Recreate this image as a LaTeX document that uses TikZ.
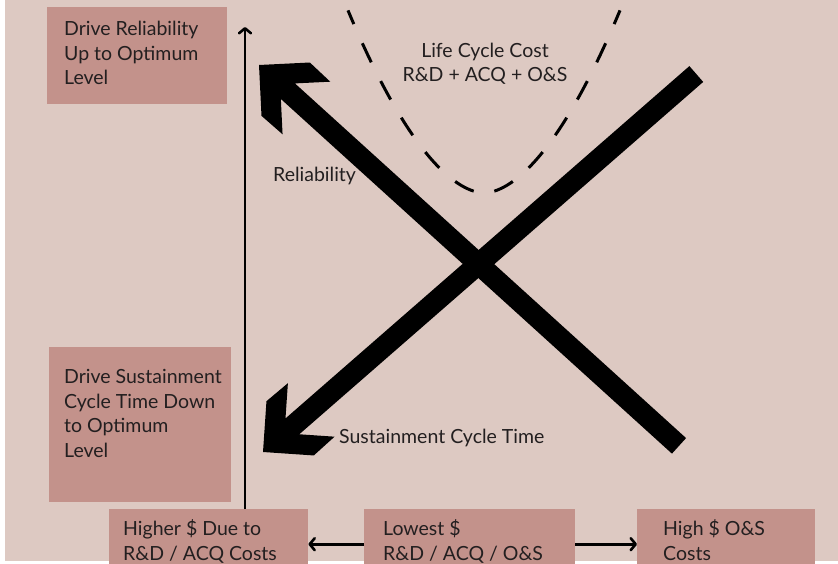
\documentclass[tikz,border=0pt]{standalone}
\usepackage{fontspec}
\setmainfont{Lato}
\usetikzlibrary{arrows.meta}

\definecolor{bgpink}{RGB}{221,201,194}
\definecolor{boxrose}{RGB}{195,146,139}
\definecolor{ink}{RGB}{35,31,32}

\tikzset{
  panel/.style={fill=boxrose, draw=none, inner sep=0pt, anchor=north west},
  lbl/.style={text=ink, font=\fontsize{19.5}{24.5}\selectfont, inner sep=0pt,
              align=left, anchor=base west},
  axisline/.style={line width=2.6pt, draw=black,
              -{Straight Barb[length=5pt,width=12pt,round]}},
  flow/.style={line width=2.6pt, draw=black,
              -{Straight Barb[length=5pt,width=12pt,round]}},
  lcccurve/.style={line width=3pt, draw=black,
              dash pattern=on 21pt off 21pt, dash phase=31.5pt},
}

% thick block arrow: tip position, heading angle, total length
\newcommand\drawblockarrow[3]{%
  \begin{scope}[shift={#1}, rotate=#2]
    \fill[black] (0,0) -- (-36,36) -- (-64,35.5) -- (-39,10.5) -- (-#3,10.5)
      -- (-#3,-10.5) -- (-39,-10.5) -- (-64,-35.5) -- (-36,-36) -- cycle;
  \end{scope}}

\begin{document}
\begin{tikzpicture}[x=1pt,y=1pt]
\useasboundingbox (0,0) rectangle (838,563);
\fill[white] (0,0) rectangle (838,563);
\fill[bgpink] (5,2) rectangle (838,563);

% text panels
\node[panel, minimum width=180pt, minimum height=97pt]  (b1) at (47,556) {};
\node[panel, minimum width=182pt, minimum height=155pt] (b2) at (49,216) {};
\node[panel, minimum width=199pt, minimum height=70pt]  (b3) at (109,54) {};
\node[panel, minimum width=211pt, minimum height=70pt]  (b4) at (364,54) {};
\node[panel, minimum width=178pt, minimum height=70pt]  (b5) at (637,54) {};

% multi-line labels are placed by the baseline of their last line
\node[lbl] (t1) at (64,478) {Drive Reliability\\Up to Optimum\\Level};
\node[lbl] (t2) at (64,106) {Drive Sustainment\\Cycle Time Down\\to Optimum\\Level};
\node[lbl] (t3) at (123,3) {Higher \$ Due to\\R\&D / ACQ Costs};
\node[lbl] (t4) at (383,3) {Lowest \$\\R\&D / ACQ / O\&S};
\node[lbl] (t5) at (663,3) {High \$ O\&S\\Costs};

% vertical axis
\coordinate (axtop) at (245,536);
\draw[axisline] (axtop |- b3.north) -- (axtop);

% cost arrows along the bottom
\draw[flow] (b4.west) -- (b3.east);
\draw[flow] (b4.east) -- (b5.west);

% life cycle cost curve, drawn as two halves from the minimum
\draw[lcccurve] plot[domain=0.01:136, samples=50] ({484+\x},{370+0.0291*(\x)^1.78});
\draw[lcccurve] plot[domain=0.01:136, samples=50] ({484-\x},{370+0.0291*(\x)^1.78});
\node[lbl, align=center, anchor=base] (lcc) at (485,481) {Life Cycle Cost\\R\&D + ACQ + O\&S};

% reliability and sustainment cycle time arrows
\drawblockarrow{(259,498)}{137.8}{567}
\drawblockarrow{(263,111)}{221.1}{575}

\node[lbl] (rel) at (273,381) {Reliability};
\node[lbl] (sct) at (339,120) {Sustainment Cycle Time};
\end{tikzpicture}
\end{document}
